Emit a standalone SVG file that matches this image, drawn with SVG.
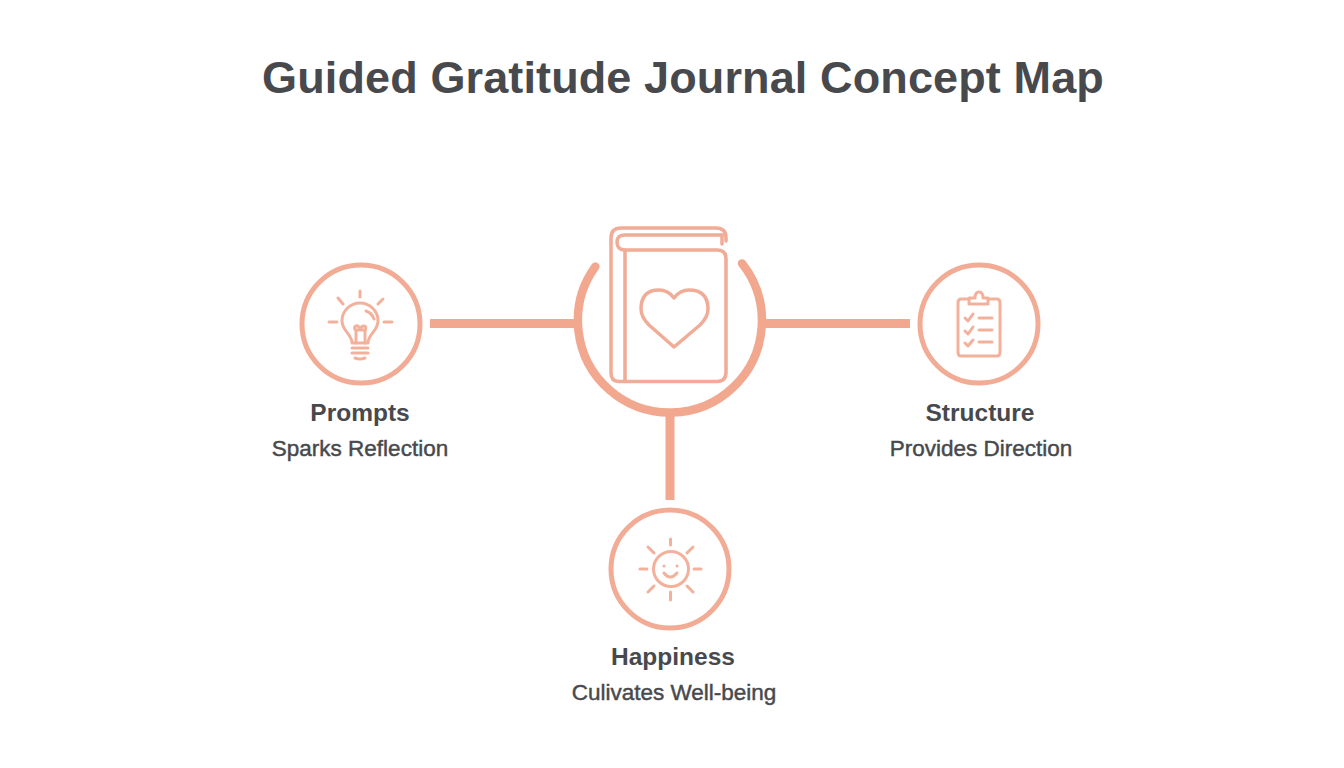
<svg xmlns="http://www.w3.org/2000/svg" width="1344" height="768" viewBox="0 0 1344 768">
<style>
.ring{fill:#fff;stroke:#f2ab94;stroke-width:5}
.conn{fill:none;stroke:#f2a88f;stroke-width:9}
.ic{fill:none;stroke:#f3b19b;stroke-width:3;stroke-linecap:round;stroke-linejoin:round}
.bk{fill:none;stroke:#f0ac96;stroke-width:3.500;stroke-linecap:round;stroke-linejoin:round}
text{font-family:"Liberation Sans",Arial,sans-serif;text-anchor:middle;fill:#48494d}
.t{font-size:45px;font-weight:700;letter-spacing:.12px}
.h{font-size:24.500px;font-weight:700}
.s{font-size:22.500px;font-weight:400;stroke:#48494d;stroke-width:.45}
</style>
<rect width="1344" height="768" fill="#fff"/>
<text class="t" x="683" y="93">Guided Gratitude Journal Concept Map</text>
<g id="connectors">
<path class="conn" d="M430 323.500H576"/>
<path class="conn" d="M764 323.500H910"/>
<path class="conn" d="M670 414V500"/>
</g>
<g id="node-center">
<path d="M595.400 266.600A92 92 0 1 0 742 263.400" fill="none" stroke="#f2a88f" stroke-width="8.500" stroke-linecap="round"/>
<path class="bk" d="M625 250V381.500H619Q611 381.500 611 373V238Q611 228 621 228H716Q726 228 726 238V241"/>
<path class="bk" d="M722 235H625Q617 235 617 242Q617 250 625 250H717Q726 250 726 259V372Q726 381.500 717 381.500H625"/>
<path class="bk" d="M722 235V244"/>
<path class="bk" d="M674 347L649 325Q641 317 641 309Q641 290 659 290Q668 290 674 298Q680 290 689 290Q708 290 708 309Q708 317 700 325Z"/>
</g>
<g id="node-prompts">
<circle class="ring" cx="361" cy="324" r="59"/>
<path class="ic" d="M352 343C352 334 342 331 342 321A18 18 0 0 1 378 321C378 331 368 334 368 343Z"/>
<path class="ic" d="M356 343V331Q353 327 356 326T360 330Q361 326 364 326T365 331V343M356 330H364"/>
<path class="ic" d="M352 348H368M352 353H368M355 358Q360 360 365 358"/>
<path class="ic" d="M360 291V297M338 298L343 304M383 299L378 304M329 322H337M384 322H392M366 311Q372 313 374 319"/>
</g>
<g id="node-structure">
<circle class="ring" cx="979" cy="324" r="59"/>
<path class="ic" d="M969 299H961Q958 299 958 303V352Q958 356 961 356H997Q1000 356 1000 352V303Q1000 299 997 299H988"/>
<path class="ic" d="M969 304V298H975Q975 292 979 292T983 298H988V304Z"/>
<path class="ic" d="M965 318L968 321L973 314M979 318H992M965 331L968 334L973 327M979 330H992M965 343L968 346L973 340M979 342H992"/>
</g>
<g id="node-happiness">
<circle class="ring" cx="670" cy="569" r="59"/>
<circle class="ic" cx="671" cy="569" r="17.500"/>
<path class="ic" d="M670.500 539V545M670.500 592V600M648 547L654 553M693 547L687 553M640 569H647M694 569H701M648 592L654 586M693 592L687 586"/>
<path class="ic" d="M664 573Q670 581 677 573"/>
<path class="ic" d="M664 566H664.100M677 566H677.100"/>
</g>
<g id="labels">
<text class="h" x="360" y="421">Prompts</text>
<text class="s" x="360" y="456">Sparks Reflection</text>
<text class="h" x="980" y="421">Structure</text>
<text class="s" x="981" y="456">Provides Direction</text>
<text class="h" x="673" y="665">Happiness</text>
<text class="s" x="674" y="700">Culivates Well-being</text>
</g>
</svg>
